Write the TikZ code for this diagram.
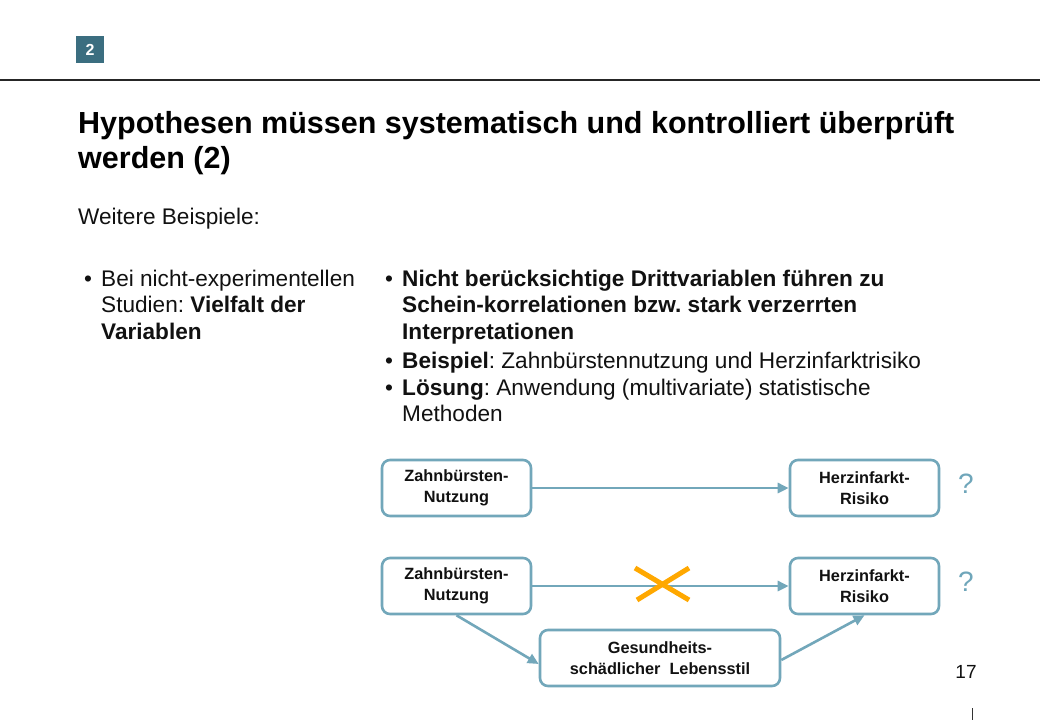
\documentclass[tikz,border=0pt]{standalone}
\usepackage{fontspec}
\setmainfont{Liberation Sans}
\usetikzlibrary{arrows.meta}
\definecolor{teal}{HTML}{3B6E80}
\definecolor{boxc}{HTML}{72A7BA}
\definecolor{qc}{HTML}{6FA6BA}
\definecolor{orng}{HTML}{FFA800}
\definecolor{txt}{HTML}{111111}
\frenchspacing
\begin{document}
\begin{tikzpicture}[x=1pt,y=-1pt,
  box/.style={draw=boxc,line width=2.6pt,rounded corners=8pt,minimum height=56pt,align=center,font=\fontsize{16.3}{21}\selectfont\bfseries,text=txt,inner sep=0pt},
  conn/.style={draw=boxc,line width=2.6pt,-{Triangle[length=11pt,width=10pt]}},
  body/.style={anchor=base west,text=txt,font=\fontsize{22.6}{27}\selectfont,inner sep=0pt},
  ttl/.style={anchor=base west,text=black,font=\fontsize{30.5}{35}\selectfont\bfseries,inner sep=0pt},
  qm/.style={text=qc,font=\fontsize{28}{28}\selectfont}]
\useasboundingbox (0,0) rectangle (1040,720);
\fill[white] (0,0) rectangle (1040,720);
% header
\node[fill=teal,minimum width=28pt,minimum height=27pt,inner sep=0pt,text=white,font=\fontsize{16}{16}\selectfont\bfseries] (num) at (90,49.5) {2};
\draw[line width=1.3pt,color=black!85] (0,80) -- (1040,80);
\node[ttl] (title1) at (78,133) {Hypothesen müssen systematisch und kontrolliert überprüft};
\node[ttl] (title2) at (78,168) {werden (2)};
\node[body] (sub) at (78,224) {Weitere Beispiele:};
% left column
\node[body] (lb) at (84,286) {•};
\node[body] (l1) at (101,286) {Bei nicht-experimentellen};
\node[body] (l2) at (101,312) {Studien: \textbf{Vielfalt der}};
\node[body] (l3) at (101,339) {\textbf{Variablen}};
% right column
\node[body] (rb1) at (385,286) {•};
\node[body] (r1) at (402,286) {\textbf{Nicht berücksichtige Drittvariablen führen zu}};
\node[body] (r2) at (402,312) {\textbf{Schein-korrelationen bzw. stark verzerrten}};
\node[body] (r3) at (402,339) {\textbf{Interpretationen}};
\node[body] (rb2) at (385,368) {•};
\node[body] (r4) at (402,368) {\textbf{Beispiel}: Zahnbürstennutzung und Herzinfarktrisiko};
\node[body] (rb3) at (385,395) {•};
\node[body] (r5) at (402,395) {\textbf{Lösung}: Anwendung (multivariate) statistische};
\node[body] (r6) at (402,421) {Methoden};
% diagram
\node[box,minimum width=149pt] (a1) at (456.5,488) {Zahnbürsten-\\Nutzung};
\node[box,minimum width=149pt] (b1) at (864.5,488) {Herzinfarkt-\\Risiko};
\node[box,minimum width=149pt] (a2) at (456.5,586) {Zahnbürsten-\\Nutzung};
\node[box,minimum width=149pt] (b2) at (864.5,586) {Herzinfarkt-\\Risiko};
\node[box,minimum width=240pt] (c) at (660,658) {Gesundheits-\\schädlicher~~Lebensstil};
\draw[conn] (a1.east) -- (b1.west);
\draw[conn] (a2.east) -- (b2.west);
\draw[conn] (a2.south) -- ([yshift=-6pt]c.west);
\draw[conn] ([yshift=-2pt]c.east) -- (b2.south);
\coordinate (x1) at (635,568);
\coordinate (x2) at (689,600);
\coordinate (x3) at (689,568);
\coordinate (x4) at (637,600);
\draw[orng,line width=5pt] (x1) -- (x2);
\draw[orng,line width=5pt] (x3) -- (x4);
\node[qm] (q1) at (966,484) {?};
\node[qm] (q2) at (966,582) {?};
\node[text=txt,font=\fontsize{19}{19}\selectfont] (pg) at (966,672) {17};
\coordinate (t1) at (972,708);
\coordinate (t2) at (972,720);
\draw[line width=0.8pt,color=black!80] (t1) -- (t2);
\end{tikzpicture}
\end{document}
